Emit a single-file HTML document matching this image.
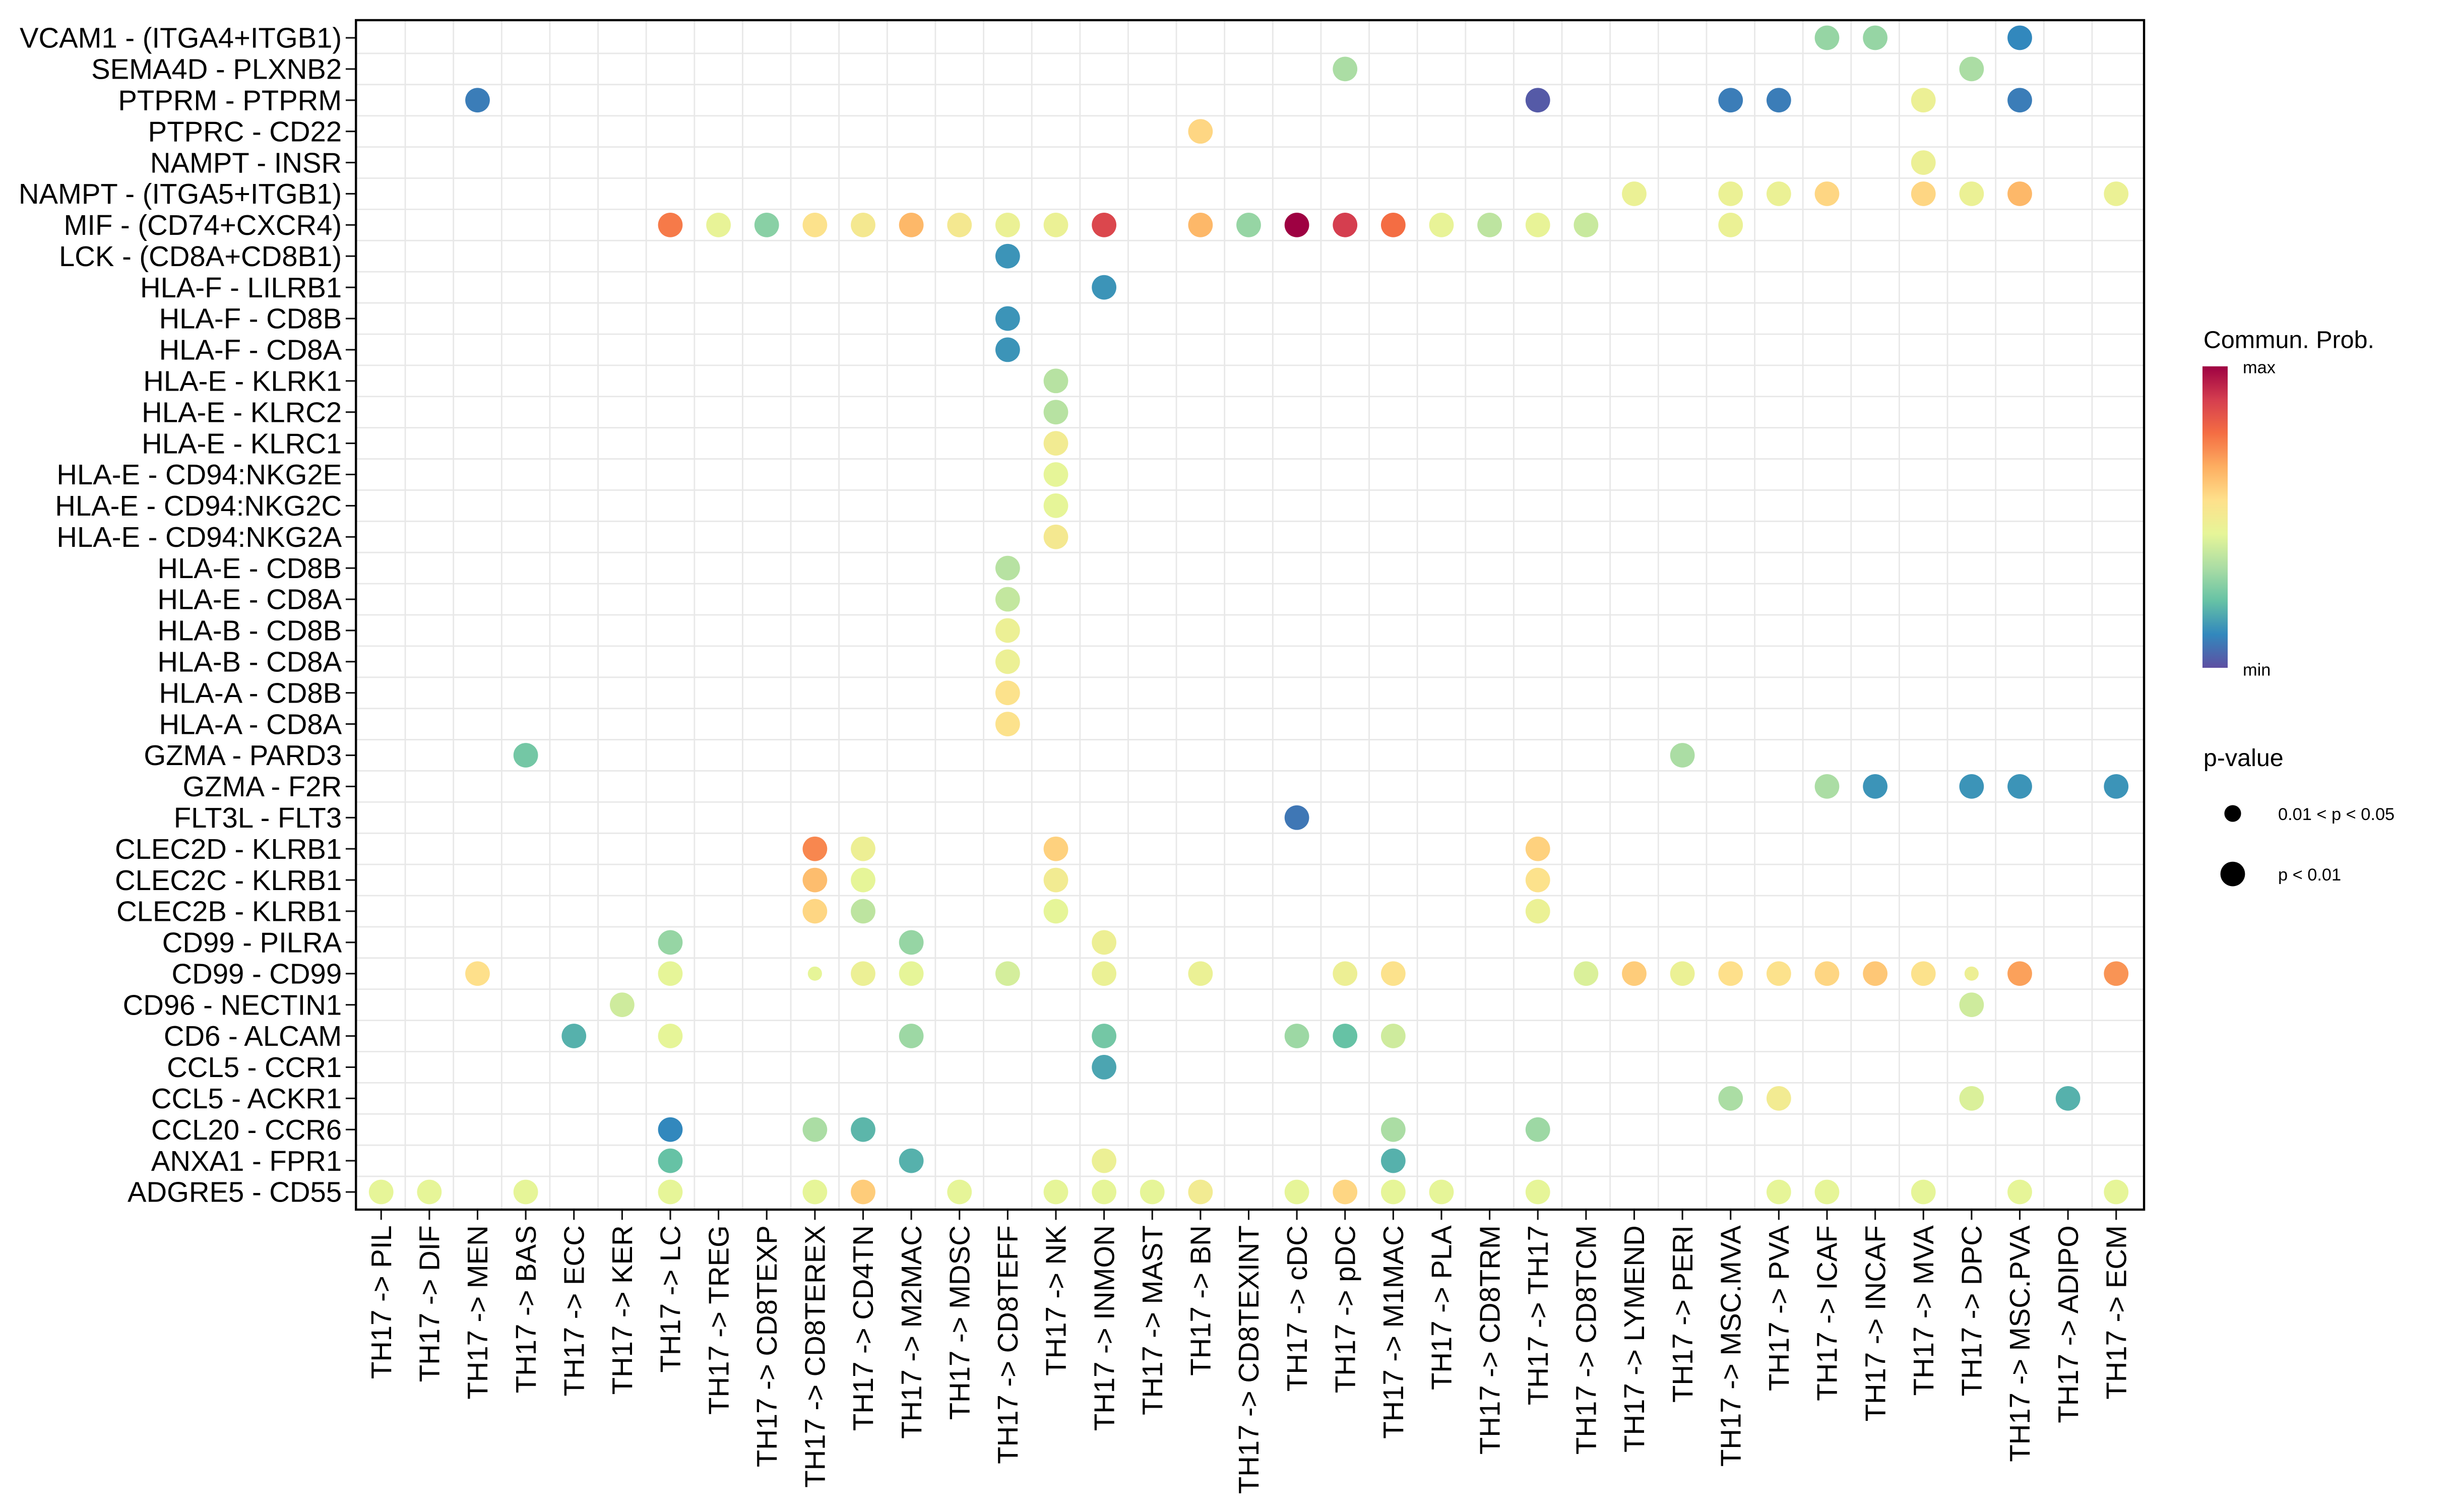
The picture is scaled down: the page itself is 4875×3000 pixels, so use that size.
<!DOCTYPE html>
<html><head><meta charset="utf-8"><style>html,body{margin:0;padding:0;background:#fff}svg{display:block}</style></head>
<body>
<svg id="chart" width="4875" height="3000" viewBox="0 0 1560 960" xmlns="http://www.w3.org/2000/svg" font-family="Liberation Sans, sans-serif">
<defs>
<linearGradient id="grad" x1="0" y1="1" x2="0" y2="0">
<stop offset="0" stop-color="#5e4fa2"/><stop offset="0.111" stop-color="#3288bd"/><stop offset="0.222" stop-color="#66c2a5"/><stop offset="0.333" stop-color="#abdda4"/><stop offset="0.444" stop-color="#e6f598"/><stop offset="0.556" stop-color="#fee08b"/><stop offset="0.667" stop-color="#fdae61"/><stop offset="0.778" stop-color="#f46d43"/><stop offset="0.889" stop-color="#d53e4f"/><stop offset="1" stop-color="#9e0142"/>
</linearGradient>
</defs>
<g id="grid"></g><g id="points"></g><g id="axes"></g>
<g>
<text x="1399" y="221" font-size="15.5">Commun. Prob.</text>
<rect x="1398.4" y="232.6" width="16" height="191.4" fill="url(#grad)"/>
<text x="1424" y="237" font-size="11">max</text>
<text x="1424" y="429" font-size="11">min</text>
<text x="1399" y="486.4" font-size="15.5">p-value</text>
<circle cx="1417.6" cy="516.5" r="5.3" fill="#000"/>
<text x="1446.4" y="520.6" font-size="11">0.01 &lt; p &lt; 0.05</text>
<circle cx="1417.6" cy="554.9" r="7.8" fill="#000"/>
<text x="1446.4" y="559" font-size="11">p &lt; 0.01</text>
</g>
</svg>
<script>
const rows = ["VCAM1 - (ITGA4+ITGB1)","SEMA4D - PLXNB2","PTPRM - PTPRM","PTPRC - CD22","NAMPT - INSR","NAMPT - (ITGA5+ITGB1)","MIF - (CD74+CXCR4)","LCK - (CD8A+CD8B1)","HLA-F - LILRB1","HLA-F - CD8B","HLA-F - CD8A","HLA-E - KLRK1","HLA-E - KLRC2","HLA-E - KLRC1","HLA-E - CD94:NKG2E","HLA-E - CD94:NKG2C","HLA-E - CD94:NKG2A","HLA-E - CD8B","HLA-E - CD8A","HLA-B - CD8B","HLA-B - CD8A","HLA-A - CD8B","HLA-A - CD8A","GZMA - PARD3","GZMA - F2R","FLT3L - FLT3","CLEC2D - KLRB1","CLEC2C - KLRB1","CLEC2B - KLRB1","CD99 - PILRA","CD99 - CD99","CD96 - NECTIN1","CD6 - ALCAM","CCL5 - CCR1","CCL5 - ACKR1","CCL20 - CCR6","ANXA1 - FPR1","ADGRE5 - CD55"];
const cols = ["PIL","DIF","MEN","BAS","ECC","KER","LC","TREG","CD8TEXP","CD8TEREX","CD4TN","M2MAC","MDSC","CD8TEFF","NK","INMON","MAST","BN","CD8TEXINT","cDC","pDC","M1MAC","PLA","CD8TRM","TH17","CD8TCM","LYMEND","PERI","MSC.MVA","PVA","ICAF","INCAF","MVA","DPC","MSC.PVA","ADIPO","ECM"];
const pointRow = [0,0,0, 1,1, 2,2,2,2,2,2, 3, 4, 5,5,5,5,5,5,5,5,
 6,6,6,6,6,6,6,6,6,6,6,6,6,6,6,6,6,6,6,6,
 7,8,9,10,11,12,13,14,15,16,17,18,19,20,21,22, 23,23, 24,24,24,24,24, 25,
 26,26,26,26, 27,27,27,27, 28,28,28,28, 29,29,29,
 30,30,30,30,30,30,30,30,30,30,30,30,30,30,30,30,30,30,30,30,30,
 31,31, 32,32,32,32,32,32,32, 33, 34,34,34,34, 35,35,35,35,35, 36,36,36,36,
 37,37,37,37,37,37,37,37,37,37,37,37,37,37,37,37,37,37,37,37,37];
const pointCol = ["ICAF","INCAF","MSC.PVA", "pDC","DPC", "MEN","TH17","MSC.MVA","PVA","MVA","MSC.PVA", "BN", "MVA",
 "LYMEND","MSC.MVA","PVA","ICAF","MVA","DPC","MSC.PVA","ECM",
 "LC","TREG","CD8TEXP","CD8TEREX","CD4TN","M2MAC","MDSC","CD8TEFF","NK","INMON","BN","CD8TEXINT","cDC","pDC","M1MAC","PLA","CD8TRM","TH17","CD8TCM","MSC.MVA",
 "CD8TEFF","INMON","CD8TEFF","CD8TEFF","NK","NK","NK","NK","NK","NK","CD8TEFF","CD8TEFF","CD8TEFF","CD8TEFF","CD8TEFF","CD8TEFF",
 "BAS","PERI", "ICAF","INCAF","DPC","MSC.PVA","ECM", "cDC",
 "CD8TEREX","CD4TN","NK","TH17", "CD8TEREX","CD4TN","NK","TH17", "CD8TEREX","CD4TN","NK","TH17",
 "LC","M2MAC","INMON",
 "MEN","LC","CD8TEREX","CD4TN","M2MAC","CD8TEFF","INMON","BN","pDC","M1MAC","CD8TCM","LYMEND","PERI","MSC.MVA","PVA","ICAF","INCAF","MVA","DPC","MSC.PVA","ECM",
 "KER","DPC", "ECC","LC","M2MAC","INMON","cDC","pDC","M1MAC", "INMON",
 "MSC.MVA","PVA","DPC","ADIPO", "LC","CD8TEREX","CD4TN","M1MAC","TH17", "LC","M2MAC","INMON","M1MAC",
 "PIL","DIF","BAS","LC","CD8TEREX","CD4TN","MDSC","NK","INMON","MAST","BN","cDC","pDC","M1MAC","PLA","TH17","PVA","ICAF","MVA","MSC.PVA","ECM"];
const pointProb = [0.27,0.27,0.1, 0.3,0.3, 0.08,0.02,0.08,0.08,0.45,0.08, 0.62, 0.45,
 0.44,0.44,0.44,0.62,0.62,0.44,0.68,0.44,
 0.78,0.42,0.25,0.58,0.52,0.68,0.52,0.44,0.44,0.88,0.68,0.27,1.0,0.9,0.8,0.42,0.33,0.42,0.35,0.44,
 0.12,0.12,0.12,0.12,0.32,0.32,0.5,0.4,0.4,0.52,0.32,0.34,0.45,0.45,0.58,0.58,
 0.22,0.3, 0.3,0.12,0.12,0.12,0.12, 0.07,
 0.76,0.46,0.63,0.63, 0.67,0.4,0.5,0.58, 0.62,0.33,0.4,0.44,
 0.27,0.27,0.46,
 0.6,0.4,0.4,0.45,0.4,0.37,0.44,0.44,0.46,0.58,0.38,0.64,0.44,0.6,0.58,0.62,0.65,0.58,0.46,0.72,0.74,
 0.36,0.36, 0.17,0.4,0.28,0.22,0.28,0.2,0.36, 0.15,
 0.3,0.5,0.38,0.17, 0.1,0.3,0.18,0.3,0.28, 0.2,0.17,0.45,0.17,
 0.4,0.4,0.4,0.4,0.4,0.64,0.4,0.4,0.4,0.4,0.5,0.4,0.62,0.4,0.4,0.4,0.4,0.4,0.4,0.4,0.4];
const smallPoints = [[30,"CD8TEREX"],[30,"DPC"]];

const NS="http://www.w3.org/2000/svg";
const L=226,R=1361.3,T=12.8,B=768;
const X0=242,X1=1343.6,Y0=24,Y1=756.8;
const dx=(X1-X0)/(cols.length-1), dy=(Y1-Y0)/(rows.length-1);
function xScale(c){return X0+dx*cols.indexOf(c);}
function yScale(i){return Y0+dy*i;}
const stopCols=["#5e4fa2","#3288bd","#66c2a5","#abdda4","#e6f598","#fee08b","#fdae61","#f46d43","#d53e4f","#9e0142"];
const stopPos=[0,0.1,0.2,0.3,0.4,0.6,0.7,0.8,0.9,1];
function hex(h){return [1,3,5].map(i=>parseInt(h.substr(i,2),16));}
function colorScale(v){v=Math.max(0,Math.min(1,v));let i=0;while(i<stopPos.length-2&&v>stopPos[i+1])i++;const f=(v-stopPos[i])/(stopPos[i+1]-stopPos[i]);const a=hex(stopCols[i]),b=hex(stopCols[i+1]);return "rgb("+a.map((x,k)=>Math.round(x+(b[k]-x)*f)).join(",")+")";}
function mk(tag,attrs,parent){const e=document.createElementNS(NS,tag);for(const k in attrs)e.setAttribute(k,attrs[k]);parent.appendChild(e);return e;}
const grid=document.getElementById('grid'),pts=document.getElementById('points'),axes=document.getElementById('axes');
mk('rect',{x:L,y:T,width:R-L,height:B-T,fill:'#fff'},grid);
rows.forEach((r,i)=>{const y=yScale(i);
 if(i<rows.length-1){
  const ln=mk('line',{x1:L,x2:R,y1:y+dy/2,y2:y+dy/2,stroke:'#e8e8e8','stroke-width':0.9},grid);
  
  
 }
 const t=mk('text',{x:L-9,y:y+6.3,'text-anchor':'end','font-size':18,fill:'#000'},axes);t.textContent=r;
 
 
 mk('line',{x1:L-6.5,x2:L,y1:y,y2:y,stroke:'#111','stroke-width':1}, axes);
});
cols.forEach((c,i)=>{const x=xScale(c);
 if(i<cols.length-1){
  const ln=mk('line',{x1:x+dx/2,x2:x+dx/2,y1:T,y2:B,stroke:'#e8e8e8','stroke-width':0.9},grid);
  
  
 }
 mk('line',{x1:x,x2:x,y1:B,y2:B+6.5,stroke:'#111','stroke-width':1},axes);
 const t=mk('text',{x:0,y:0,'text-anchor':'end','font-size':18,fill:'#000',transform:'translate('+(x+6.3)+','+(B+10)+') rotate(-90)'},axes);t.textContent='TH17 -> '+c;
 
 
});
const border=mk('rect',{x:L,y:T,width:R-L,height:B-T,fill:'none',stroke:'#000','stroke-width':1.4},axes);


pointRow.forEach((r,k)=>{const c=pointCol[k];
 const small=smallPoints.some(s=>s[0]===r&&s[1]===c);
 const d=mk('circle',{cx:xScale(c),cy:yScale(r),r:small?4.5:7.8,fill:colorScale(pointProb[k])},pts);
 
 
});
</script>
</body></html>
